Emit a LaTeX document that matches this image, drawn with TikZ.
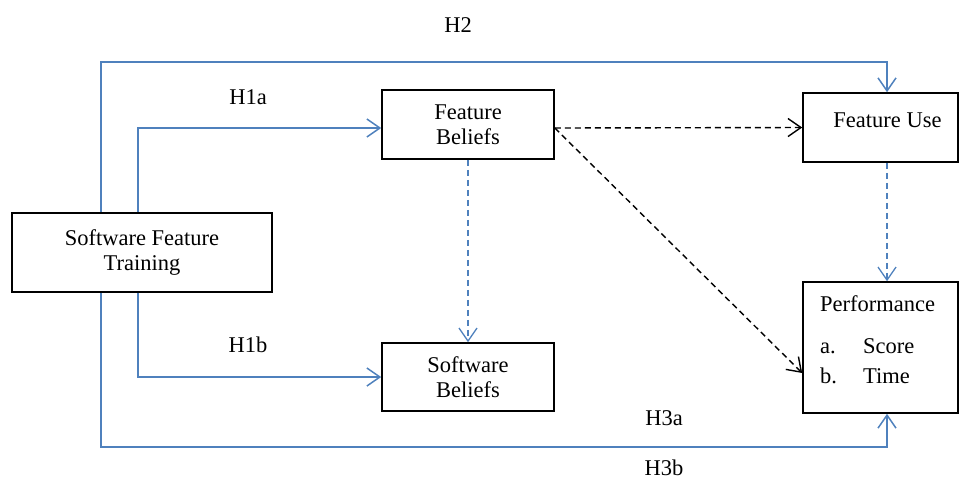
\documentclass[tikz,border=0pt]{standalone}
\usepackage{fontspec}
\setmainfont{Liberation Serif}
\usetikzlibrary{arrows.meta}
\definecolor{bleu}{RGB}{79,129,189}
\begin{document}
\begin{tikzpicture}[x=1pt,y=-1pt]
		\tikzstyle{texte}=[font=\fontsize{22.5}{25}\selectfont]
		\tikzstyle{boite}=[texte,draw,line width=1.6pt,align=center,inner sep=0pt]
		\tikzstyle{fleche}=[draw=bleu,line width=1.5pt,-{Straight Barb[length=13pt,width=18pt]}]
		\tikzstyle{fleche_tirets}=[fleche,line width=1.3pt,dash pattern=on 6pt off 4pt]
		\tikzstyle{fleche_noire}=[fleche,draw=black,line width=1.4pt,dash pattern=on 6pt off 4pt]
		\useasboundingbox (0,0) rectangle (965,483);
		\node[boite,minimum width=260pt,minimum height=79pt] (sft) at (142,252.5) {Software Feature\\Training}; % gauche
		\node[boite,minimum width=172pt,minimum height=69pt] (fb) at (468,124.5) {Feature\\Beliefs};
		\node[boite,minimum width=172pt,minimum height=68pt] (sb) at (468,377) {Software\\Beliefs};
		\node[boite,minimum width=155pt,minimum height=69pt] (fu) at (880.5,127.5) {\hspace*{14pt}\raisebox{15pt}{Feature Use}}; % droite
		\node[boite,minimum width=155pt,minimum height=131pt] (perf) at (880.5,347.5) {};
		\node[texte,anchor=north west,inner sep=0pt] (perftxt) at (820,293.5) {\begin{tabular}{@{}p{43pt}@{}l@{}}
			\multicolumn{2}{@{}l@{}}{Performance}\\[17pt]
			a. & Score\\[5pt]
			b. & Time
		\end{tabular}};
		\coordinate (g1) at (101,62); % haut
		\coordinate (g2) at (138,0);
		\coordinate (g3) at (101,447); % bas
		\coordinate (d) at (887,0);
		\draw[fleche] (sft.north -| g1) -- (g1) -| (fu.north -| d);
		\draw[fleche] (sft.north -| g2) |- ([yshift=-3.5pt]fb.west);
		\draw[fleche] (sft.south -| g2) |- (sb.west);
		\draw[fleche] (sft.south -| g3) -- (g3) -| (perf.south -| d);
		\draw[fleche_tirets] (fb.south) -- (sb.north);
		\draw[fleche_tirets] (fu.south -| d) -- (perf.north -| d);
		\draw[fleche_noire] ([yshift=-3.5pt]fb.east) -- (fu.west);
		\draw[fleche_noire] ([yshift=-3.5pt]fb.east) -- ([yshift=-25.5pt]perf.west);
		\node[texte] (h2) at (458,25) {H2};
		\node[texte] (h1a) at (248,97) {H1a};
		\node[texte] (h1b) at (248,345) {H1b};
		\node[texte] (h3a) at (664,418) {H3a};
		\node[texte] (h3b) at (664,468) {H3b};
	\end{tikzpicture}
\end{document}
